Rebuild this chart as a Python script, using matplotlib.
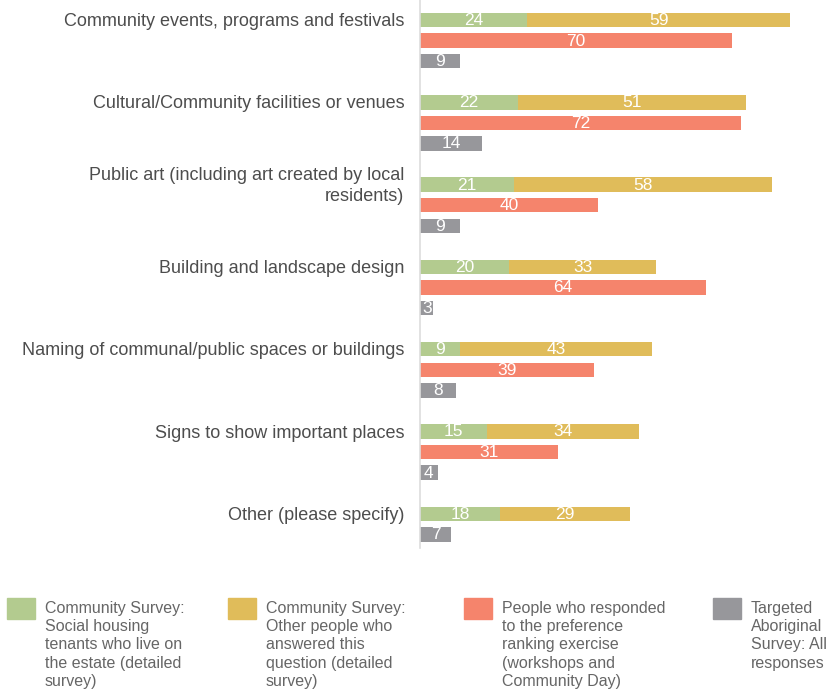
import matplotlib.pyplot as plt
from matplotlib.patches import Rectangle

plt.rcParams["font.family"] = ["Liberation Sans", "DejaVu Sans"]

categories = [
    "Community events, programs and festivals",
    "Cultural/Community facilities or venues",
    "Public art (including art created by local\nresidents)",
    "Building and landscape design",
    "Naming of communal/public spaces or buildings",
    "Signs to show important places",
    "Other (please specify)",
]
tenants = [24, 22, 21, 20, 9, 15, 18]
other_people = [59, 51, 58, 33, 43, 34, 29]
ranking = [70, 72, 40, 64, 39, 31, None]
aboriginal = [9, 14, 9, 3, 8, 4, 7]

legend_labels = [
    "Community Survey:\nSocial housing\ntenants who live on\nthe estate (detailed\nsurvey)",
    "Community Survey:\nOther people who\nanswered this\nquestion (detailed\nsurvey)",
    "People who responded\nto the preference\nranking exercise\n(workshops and\nCommunity Day)",
    "Targeted\nAboriginal\nSurvey: All\nresponses",
]

GREEN = "#b3cb8f"
YELLOW = "#e0bc5a"
RED = "#f5846c"
GREY = "#97979b"
COLORS = [GREEN, YELLOW, RED, GREY]

W, H = 826, 691
GROUP_STEP = 82.3
ROW_STEP = 20.6
BAR_H = 14.5

fig = plt.figure(figsize=(W / 100, H / 100), dpi=100)
ax = fig.add_axes([420 / W, (H - 548) / H, 406 / W, 548 / H])
ax.set_xlim(0, 91)
ax.set_ylim(548, 0)
for side in ["top", "right", "bottom"]:
    ax.spines[side].set_visible(False)
ax.spines["left"].set_color("#dddddd")
ax.spines["left"].set_linewidth(1.2)
ax.set_xticks([])
ax.set_yticks([])

label_kw = dict(ha="center", va="center", color="white", fontsize=12.5)

for i, cat in enumerate(categories):
    y0 = 20 + i * GROUP_STEP
    # stacked survey row
    ax.barh(y0, tenants[i], height=BAR_H, color=GREEN)
    ax.barh(y0, other_people[i], left=tenants[i], height=BAR_H, color=YELLOW)
    ax.text(tenants[i] / 2, y0 + 0.5, str(tenants[i]), **label_kw)
    ax.text(tenants[i] + other_people[i] / 2, y0 + 0.5, str(other_people[i]), **label_kw)
    row = 1
    if ranking[i] is not None:
        y = y0 + row * ROW_STEP
        ax.barh(y, ranking[i], height=BAR_H, color=RED)
        ax.text(ranking[i] / 2, y + 0.5, str(ranking[i]), **label_kw)
        row += 1
    y = y0 + row * ROW_STEP
    ax.barh(y, aboriginal[i], height=BAR_H, color=GREY)
    ax.text(aboriginal[i] / 2, y + 0.5, str(aboriginal[i]), **label_kw)

    ax.text(-3.5, y0 + 1.5, cat, ha="right", va="center", fontsize=13,
            color="#4d4d4d", linespacing=1.35)

# legend along the bottom
leg_x = [7, 228, 464, 713]
for x, color, text in zip(leg_x, COLORS, legend_labels):
    fig.patches.append(Rectangle((x / W, (H - 619) / H), 28 / W, 21 / H,
                                 transform=fig.transFigure, color=color))
    fig.text((x + 38) / W, (H - 600.5) / H, text, ha="left", va="top",
             fontsize=11.5, color="#666666", linespacing=1.29)

fig.savefig("out.png", dpi=100)
